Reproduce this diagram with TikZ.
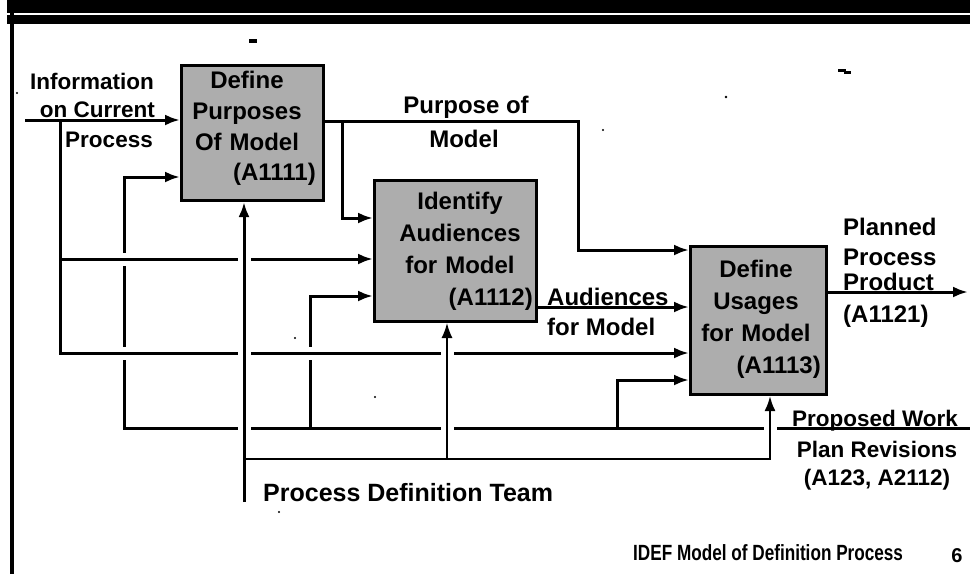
\documentclass[tikz,border=0pt]{standalone}
\usepackage{fontspec}
\usepackage{graphicx}
\setmainfont{Liberation Sans}
\usetikzlibrary{arrows.meta}
\begin{document}
\begin{tikzpicture}[x=1pt,y=-1pt,
  wire/.style={line width=3pt},
  feed/.style={wire,-{Latex[length=15pt,width=11pt]}},
  thinfeed/.style={line width=2.2pt,-{Latex[length=15pt,width=11pt]}},
  actbox/.style={draw,rectangle,line width=3pt,fill=black!32,inner sep=0pt},
  acttext/.style={anchor=north,inner sep=0pt,align=center},
  actid/.style={anchor=base east,inner sep=0pt,font=\fontsize{24}{28}\selectfont\bfseries},
  lbl/.style={inner sep=0pt,font=\fontsize{24}{28}\selectfont\bfseries},
  lblsmall/.style={inner sep=0pt,font=\fontsize{22.5}{26}\selectfont\bfseries},
  speck/.style={fill=black}
]
\useasboundingbox (0,0) rectangle (970,574);

% page frame: heavy rule along the top, thin rule down the left
\fill (7,0) rectangle (970,13);
\fill (7,15) rectangle (970,24);
\draw[line width=4pt] (12,0) -- (12,574);

% activity boxes
\node[actbox,minimum width=142pt,minimum height=135pt] (b1) at (252.5,133) {};
\node[actbox,minimum width=162pt,minimum height=141pt] (b2) at (455.5,251) {};
\node[actbox,minimum width=136pt,minimum height=148pt] (b3) at (758.5,320.5) {};

\node[acttext,text width=136pt,font=\fontsize{24}{31}\selectfont\bfseries] (t1) at (247,70.5)
  {Define\\Purposes\\Of Model};
\node[acttext,text width=146pt,font=\fontsize{24}{32}\selectfont\bfseries] (t2) at (460,191.5)
  {Identify\\Audiences\\for Model};
\node[acttext,text width=128pt,font=\fontsize{24}{32}\selectfont\bfseries] (t3) at (756,259.5)
  {Define\\Usages\\for Model};
\node[actid] (id1) at (316,180) {(A1111)};
\node[actid] (id2) at (533,305) {(A1112)};
\node[actid] (id3) at (821,373) {(A1113)};

% inputs, outputs and feedback
\coordinate (infoIn) at (25,120);
\draw[feed] (infoIn) -- (infoIn -| b1.west);

\coordinate (purOut) at (0,121);
\coordinate (purBend) at (578,250);
\draw[feed] (purOut -| b1.east) -| (purBend) -- (purBend -| b3.west);
\coordinate (purTap) at (342,218);
\draw[feed] (purTap |- purOut) -- (purTap) -- (purTap -| b2.west);

\coordinate (audY) at (0,307);
\draw[feed] (audY -| b2.east) -- (audY -| b3.west);

\coordinate (prodEnd) at (968,292);
\draw[feed] (prodEnd -| b3.east) -- (prodEnd);

\coordinate (fbEnd) at (970,428);
\coordinate (fbA) at (124,177);
\coordinate (fbB) at (310,296);
\coordinate (fbC) at (617,380);
\draw[feed] (fbEnd) -| (fbA) -- (fbA -| b1.west);
\draw[feed] (fbB |- fbEnd) -- (fbB) -- (fbB -| b2.west);
\draw[feed] (fbC |- fbEnd) -- (fbC) -- (fbC -| b3.west);

% breaks in the feedback verticals where the input branches pass
\fill[white] (119,252.5) rectangle (129,265.5);
\fill[white] (119,346.5) rectangle (129,359.5);
\fill[white] (305,346.5) rectangle (315,359.5);

\coordinate (tapTop) at (60,120);
\coordinate (tapMid) at (60,259);
\coordinate (tapLow) at (60,353);
\draw[feed] (tapTop) |- (tapLow -| b3.west);
\draw[feed] (tapMid) -- (tapMid -| b2.west);

% breaks in the horizontals where the control lines pass
\fill[white] (237.5,254) rectangle (250.5,264);
\fill[white] (237.5,348) rectangle (250.5,358);
\fill[white] (237.5,423) rectangle (250.5,433);
\fill[white] (440.5,348) rectangle (453.5,358);
\fill[white] (440.5,423) rectangle (453.5,433);
\fill[white] (763.5,423) rectangle (776.5,433);

% controls from the definition team
\coordinate (ctlFoot) at (244,502);
\coordinate (ctlJoin) at (244,459);
\coordinate (ctlB) at (447,459);
\coordinate (ctlC) at (770,459);
\draw[feed] (ctlFoot) -- (ctlFoot |- b1.south);
\draw[thinfeed] (ctlJoin) -- (ctlC) -- (ctlC |- b3.south);
\draw[line width=1.5pt,-{Latex[length=15pt,width=11pt]}] (ctlB) -- (ctlB |- b2.south);

% labels
\node[lblsmall,anchor=base east] (lInfoA) at (154,89) {Information};
\node[lblsmall,anchor=base east] (lInfoB) at (155,117) {on Current};
\node[lblsmall,anchor=base east] (lInfoC) at (153,147) {Process};

\node[lbl,anchor=base] (lPurA) at (466,113) {Purpose of};
\node[lbl,anchor=base] (lPurB) at (464,147) {Model};

\node[lbl,anchor=base west] (lAudA) at (547,305) {Audiences};
\node[lbl,anchor=base west] (lAudB) at (547,335) {for Model};

\node[lbl,anchor=base west] (lPlanA) at (843,235) {Planned};
\node[lbl,anchor=base west] (lPlanB) at (843,265) {Process};
\node[lbl,anchor=base west] (lPlanC) at (843,290) {Product};
\node[lbl,anchor=base west] (lPlanD) at (843,322) {(A1121)};

\node[lblsmall,anchor=base] (lPropA) at (875,426) {Proposed Work};
\node[lblsmall,anchor=base] (lPropB) at (877,457) {Plan Revisions};
\node[lblsmall,anchor=base] (lPropC) at (877,485) {(A123, A2112)};

\node[inner sep=0pt,anchor=base west,font=\fontsize{25}{28}\selectfont\bfseries] (lTeam) at (263,501) {Process Definition Team};

\node[inner sep=0pt,anchor=base west,font=\fontsize{22}{24}\selectfont\bfseries] (lFoot) at (633,560)
  {\scalebox{0.78}[1]{IDEF Model of Definition Process}};
\node[inner sep=0pt,anchor=base,font=\fontsize{20}{24}\selectfont\bfseries] (lPage) at (957,562) {6};

% stray marks
\fill[speck] (249,39) rectangle (257,43);
\fill[speck] (838,69) rectangle (846,72);
\fill[speck] (844,71) rectangle (851,74);
\fill[speck] (726,97) circle (1.3);
\fill[speck] (603,130) circle (1.2);
\fill[speck] (17,93) circle (1.2);
\fill[speck] (375,397) circle (1.1);
\fill[speck] (279,512) circle (1.1);
\fill[speck] (295,338) circle (1.1);
\end{tikzpicture}
\end{document}
